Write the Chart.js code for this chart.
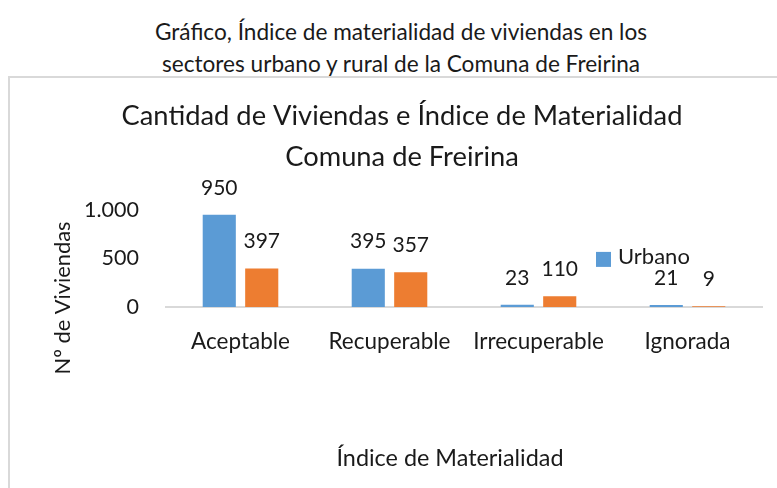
<!DOCTYPE html>
<html><head><meta charset="utf-8">
<script src="https://cdn.jsdelivr.net/npm/chart.js@4/dist/chart.umd.min.js"></script>
<style>
html,body{margin:0;padding:0;background:#fff;overflow:hidden;width:777px;height:488px;position:relative}
#outer{position:absolute;left:0;top:16px;width:802px;text-align:center;font-family:Lato,"Noto Sans",sans-serif;font-size:22.6px;line-height:32px;color:#1a1a1a}
#frame{position:absolute;left:8px;top:76px;width:820px;height:500px;border-top:2px solid #d9d9d9;border-left:2px solid #d9d9d9}
#wrap{position:absolute;left:11px;top:79px;width:782px;height:409px}
</style></head>
<body>
<div id="outer">Gráfico, Índice de materialidad de viviendas en los<br>sectores urbano y rural de la Comuna de Freirina</div>
<div id="frame"></div>
<div id="wrap"><canvas id="c" width="782" height="409"></canvas></div>
<script>
const categories = ['Aceptable', 'Recuperable', 'Irrecuperable', 'Ignorada'];
const urbano = [950, 395, 23, 21];
const rural = [397, 357, 110, 9];
const seriesNames = ['Urbano', 'Rural'];
const yTicks = [0, 500, 1000];
const chartTitle = ['Cantidad de Viviendas e Índice de Materialidad', 'Comuna de Freirina'];
const xTitle = 'Índice de Materialidad';
const yTitle = 'Nº de Viviendas';

const FONT = 'Lato, "Noto Sans", sans-serif';
const TXT = '#1a1a1a';
const fmt = v => String(v).replace(/\B(?=(\d{3})+(?!\d))/g, '.');

const extras = {
  id: 'extras',
  afterDatasetsDraw(chart) {
    const ctx = chart.ctx;
    ctx.save();
    ctx.font = '21px ' + FONT;
    ctx.fillStyle = TXT;
    ctx.textAlign = 'center';
    ctx.textBaseline = 'middle';
    chart.data.datasets.forEach((ds, i) => {
      chart.getDatasetMeta(i).data.forEach((el, j) => {
        ctx.fillText(fmt(ds.data[j]), el.x, el.y - 27);
      });
    });
    ctx.restore();
  },
  afterDraw(chart) {
    const ctx = chart.ctx;
    const a = chart.chartArea;
    ctx.save();
    ctx.fillStyle = TXT;
    ctx.textAlign = 'center';
    ctx.textBaseline = 'middle';
    // x axis title
    ctx.font = '23.4px ' + FONT;
    ctx.fillText(xTitle, a.left + 284, a.bottom + 151);
    // y axis title
    ctx.font = '21.8px ' + FONT;
    ctx.save();
    ctx.translate(52, a.bottom - 9);
    ctx.rotate(-Math.PI / 2);
    ctx.fillText(yTitle, 0, 0);
    ctx.restore();
    // legend (only first series visible)
    const lx = a.left + 430, ly = a.top + 42;
    ctx.fillStyle = chart.data.datasets[0].backgroundColor;
    ctx.fillRect(lx, ly, 15, 15);
    ctx.fillStyle = TXT;
    ctx.textAlign = 'left';
    ctx.font = '22px ' + FONT;
    ctx.fillText(seriesNames[0], lx + 22, ly + 5);
    ctx.restore();
  }
};

new Chart(document.getElementById('c'), {
  type: 'bar',
  data: {
    labels: categories,
    datasets: [
      { label: seriesNames[0], data: urbano, backgroundColor: '#5B9BD5', categoryPercentage: 0.57, barPercentage: 0.78 },
      { label: seriesNames[1], data: rural, backgroundColor: '#ED7D31', categoryPercentage: 0.57, barPercentage: 0.78 }
    ]
  },
  options: {
    responsive: false,
    animation: false,
    devicePixelRatio: 1,
    layout: { padding: { left: 31, right: 31, top: 0, bottom: 0 } },
    plugins: {
      legend: { display: false },
      tooltip: { enabled: false },
      title: {
        display: true,
        text: chartTitle,
        color: TXT,
        font: { family: FONT, size: 27.3, weight: 'normal', lineHeight: 1.5 },
        padding: { top: 17, bottom: 32 }
      }
    },
    scales: {
      x: {
        z: 1,
        grid: { display: false, drawTicks: false },
        border: { display: true, color: '#d9d9d9', width: 2 },
        ticks: { color: TXT, font: { family: FONT, size: 22.5 }, padding: 21 },
        afterFit(s) { s.height = 181; }
      },
      y: {
        min: 0, max: 1000,
        afterBuildTicks(s) { s.ticks = yTicks.map(v => ({ value: v })); },
        grid: { display: false, drawTicks: false },
        border: { display: false },
        ticks: { color: TXT, font: { family: FONT, size: 21.5 }, padding: 27, callback: v => fmt(v) },
        afterFit(s) { s.width = 124; }
      }
    }
  },
  plugins: [extras]
});
</script>
</body></html>
